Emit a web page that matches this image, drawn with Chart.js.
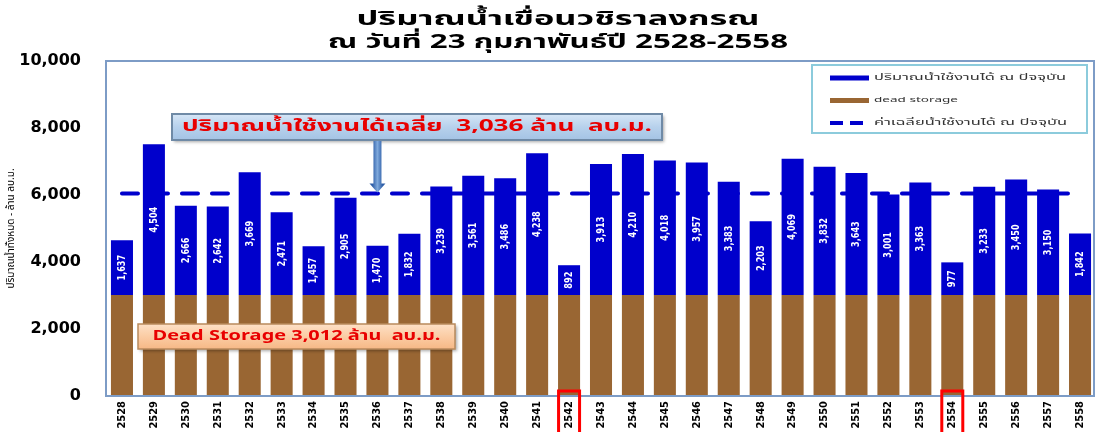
<!DOCTYPE html>
<html>
<head>
<meta charset="utf-8">
<script src="https://cdn.jsdelivr.net/npm/chart.js@4.4.0/dist/chart.umd.min.js"></script>
<style>
    html, body { margin: 0; padding: 0; background: #fff; }
    #wrap { width: 1099px; height: 432px; position: relative; }
</style>
</head>
<body>
<div id="wrap"><canvas id="damChart"></canvas></div>
<script>
// ปีงบ 2528-2558, ข้อมูล ณ วันที่ 23 ก.พ.
const years = ['2528', '2529', '2530', '2531', '2532', '2533', '2534', '2535', '2536', '2537',
    '2538', '2539', '2540', '2541', '2542', '2543', '2544', '2545', '2546', '2547',
    '2548', '2549', '2550', '2551', '2552', '2553', '2554', '2555', '2556', '2557', '2558'];

const usableVolume = [1637, 4504, 2666, 2642, 3669, 2471, 1457, 2905, 1470, 1832,
    3239, 3561, 3486, 4238, 892, 3913, 4210, 4018, 3957, 3383,
    2203, 4069, 3832, 3643, 3001, 3363, 977, 3233, 3450, 3150, 1842];

const deadStorage = [3012, 3012, 3012, 3012, 3012, 3012, 3012, 3012, 3012, 3012,
    3012, 3012, 3012, 3012, 3012, 3012, 3012, 3012, 3012, 3012,
    3012, 3012, 3012, 3012, 3012, 3012, 3012, 3012, 3012, 3012, 3012];

// dead storage + ค่าเฉลี่ยน้ำใช้งานได้ 3,036
const averageLevel = [6048, 6048, 6048, 6048, 6048, 6048, 6048, 6048, 6048, 6048,
    6048, 6048, 6048, 6048, 6048, 6048, 6048, 6048, 6048, 6048,
    6048, 6048, 6048, 6048, 6048, 6048, 6048, 6048, 6048, 6048, 6048];

const yTicks = [0, 2000, 4000, 6000, 8000, 10000];
const highlightYears = ['2542', '2554'];

const titleLines = ['ปริมาณน้ำเขื่อนวชิราลงกรณ', 'ณ วันที่ 23 กุมภาพันธ์ปี 2528-2558'];

const THAI = '"Noto Sans Thai", Tahoma, "DejaVu Sans", sans-serif';
const NARROW = '"Liberation Sans Narrow", "DejaVu Sans Condensed", "Liberation Sans", sans-serif';
const BLUE = '#0000CC';
const BROWN = '#996633';

// the original picture is stretched sideways, so text is drawn wide to a given width
function wideText(ctx, text, x, y, font, width, sy, align) {
    ctx.save();
    ctx.font = font;
    const sx = width / ctx.measureText(text).width;
    ctx.textAlign = align || 'center';
    ctx.textBaseline = 'middle';
    ctx.translate(x, y);
    ctx.scale(sx, sy);
    ctx.fillText(text, 0, 0);
    ctx.restore();
}

const extrasPlugin = {
    id: 'extras',
    afterDatasetsDraw(chart) {
        const ctx = chart.ctx;
        // labels inside the blue bars
        const meta = chart.getDatasetMeta(2);
        ctx.save();
        ctx.fillStyle = '#fff';
        ctx.font = 'bold 11px ' + NARROW;
        ctx.textAlign = 'center';
        ctx.textBaseline = 'middle';
        meta.data.forEach((bar, i) => {
            const p = bar.getProps(['x', 'y', 'base'], true);
            ctx.save();
            ctx.translate(p.x, (p.y + p.base) / 2);
            ctx.rotate(-Math.PI / 2);
            ctx.scale(0.82, 1);
            ctx.fillText(usableVolume[i].toLocaleString('en-US'), 0, 0);
            ctx.restore();
        });
        ctx.restore();
    },
    afterDraw(chart) {
        const ctx = chart.ctx;
        const a = chart.chartArea;
        const xs = chart.scales.x;
        const ys = chart.scales.y;

        // title
        ctx.save();
        ctx.fillStyle = '#000';
        wideText(ctx, titleLines[0], 558, 21, 'bold 19px ' + THAI, 403, 1);
        wideText(ctx, titleLines[1], 558, 44, 'bold 19px ' + THAI, 460, 1);
        ctx.restore();

        // plot frame
        ctx.save();
        ctx.strokeStyle = '#7d9cc6';
        ctx.lineWidth = 2;
        ctx.strokeRect(a.left, a.top, a.right - a.left - 2, a.bottom - a.top);
        ctx.restore();

        // legend
        const lx = a.right - 284, ly = a.top + 4, lw = 275, lh = 68;
        ctx.save();
        ctx.fillStyle = '#fff';
        ctx.fillRect(lx, ly, lw, lh);
        ctx.strokeStyle = '#8ccbdc';
        ctx.lineWidth = 2;
        ctx.strokeRect(lx, ly, lw, lh);
        const items = [
            { text: chart.data.datasets[2].label, color: BLUE, dash: [], w: 5, tw: 192 },
            { text: chart.data.datasets[1].label, color: BROWN, dash: [], w: 5, tw: 84 },
            { text: chart.data.datasets[0].label, color: BLUE, dash: [13, 7], w: 4, tw: 193 }
        ];
        items.forEach((it, k) => {
            const yy = ly + 13 + k * 22.5;
            ctx.beginPath();
            ctx.setLineDash(it.dash);
            ctx.strokeStyle = it.color;
            ctx.lineWidth = it.w;
            ctx.moveTo(lx + 18, yy);
            ctx.lineTo(lx + 57, yy);
            ctx.stroke();
            ctx.setLineDash([]);
            ctx.fillStyle = '#333';
            wideText(ctx, it.text, lx + 62, yy, '10px ' + THAI, it.tw, 0.8, 'left');
        });
        ctx.restore();

        // average annotation box + arrow
        const avgY = ys.getPixelForValue(averageLevel[0]);
        const arrowX = xs.getPixelForValue(8);
        const b1x = a.left + 66, b1y = a.top + 53, b1w = 490, b1h = 26;
        ctx.save();
        ctx.shadowColor = 'rgba(0,0,0,0.35)';
        ctx.shadowBlur = 3;
        ctx.shadowOffsetX = 2;
        ctx.shadowOffsetY = 2;
        let g = ctx.createLinearGradient(0, b1y, 0, b1y + b1h);
        g.addColorStop(0, '#d6e6f6');
        g.addColorStop(0.5, '#b7d1ec');
        g.addColorStop(1, '#a4c3e4');
        ctx.fillStyle = g;
        ctx.fillRect(b1x, b1y, b1w, b1h);
        ctx.shadowColor = 'transparent';
        ctx.strokeStyle = '#6f8aa6';
        ctx.lineWidth = 2;
        ctx.strokeRect(b1x, b1y, b1w, b1h);
        ctx.fillStyle = '#e80000';
        wideText(ctx, 'ปริมาณน้ำใช้งานได้เฉลี่ย  3,036 ล้าน  ลบ.ม.', b1x + b1w / 2, b1y + b1h / 2 + 1,
            'bold 16px ' + THAI, 470, 0.95);

        g = ctx.createLinearGradient(arrowX - 5, 0, arrowX + 5, 0);
        g.addColorStop(0, '#2f5fa8');
        g.addColorStop(0.5, '#7fa9dc');
        g.addColorStop(1, '#2f5fa8');
        ctx.fillStyle = g;
        ctx.fillRect(arrowX - 4, b1y + b1h + 1, 8, avgY - (b1y + b1h) - 10);
        ctx.beginPath();
        ctx.moveTo(arrowX - 8, avgY - 10);
        ctx.lineTo(arrowX + 8, avgY - 10);
        ctx.lineTo(arrowX, avgY - 1);
        ctx.closePath();
        ctx.fill();
        ctx.restore();

        // dead storage annotation box
        const b2x = a.left + 32, b2y = a.top + 263, b2w = 317, b2h = 25;
        ctx.save();
        ctx.shadowColor = 'rgba(0,0,0,0.35)';
        ctx.shadowBlur = 3;
        ctx.shadowOffsetX = 2;
        ctx.shadowOffsetY = 2;
        g = ctx.createLinearGradient(0, b2y, 0, b2y + b2h);
        g.addColorStop(0, '#fde0c6');
        g.addColorStop(0.5, '#fbcca4');
        g.addColorStop(1, '#f6b886');
        ctx.fillStyle = g;
        ctx.fillRect(b2x, b2y, b2w, b2h);
        ctx.shadowColor = 'transparent';
        ctx.strokeStyle = '#b98a5c';
        ctx.lineWidth = 1.5;
        ctx.strokeRect(b2x, b2y, b2w, b2h);
        ctx.fillStyle = '#e80000';
        wideText(ctx, 'Dead Storage 3,012 ล้าน  ลบ.ม.', b2x + b2w / 2, b2y + b2h / 2 + 1,
            'bold 15px ' + THAI, 288, 0.9);
        ctx.restore();

        // red boxes round the highlighted years
        ctx.save();
        ctx.strokeStyle = '#ff0000';
        ctx.lineWidth = 3;
        highlightYears.forEach(yr => {
            const x = xs.getPixelForValue(years.indexOf(yr));
            ctx.strokeRect(x - 10.5, a.bottom - 5, 21, 50);
        });
        ctx.restore();
    }
};

new Chart(document.getElementById('damChart'), {
    type: 'bar',
    data: {
        labels: years,
        datasets: [{
            type: 'line',
            label: 'ค่าเฉลี่ยน้ำใช้งานได้ ณ ปัจจุบัน',
            data: averageLevel,
            borderColor: BLUE,
            borderWidth: 4,
            borderDash: [16, 14],
            borderCapStyle: 'round',
            pointRadius: 0,
            fill: false,
            stack: 'avg',
            order: 0
        }, {
            label: 'dead storage',
            data: deadStorage,
            backgroundColor: BROWN,
            borderWidth: 0,
            stack: 'vol',
            order: 1
        }, {
            label: 'ปริมาณน้ำใช้งานได้ ณ ปัจจุบัน',
            data: usableVolume,
            backgroundColor: BLUE,
            borderWidth: 0,
            stack: 'vol',
            order: 1
        }]
    },
    options: {
        responsive: true,
        maintainAspectRatio: false,
        animation: false,
        devicePixelRatio: 1,
        barPercentage: 0.69,
        categoryPercentage: 1,
        layout: { padding: { left: 0, right: 3, top: 61, bottom: 0 } },
        plugins: {
            legend: { display: false },
            tooltip: { enabled: false },
            title: { display: false }
        },
        scales: {
            x: {
                stacked: true,
                grid: { display: false, drawTicks: false },
                border: { display: false },
                ticks: {
                    autoSkip: false,
                    minRotation: 90,
                    maxRotation: 90,
                    padding: 5,
                    color: '#000',
                    font: { family: NARROW, size: 11, weight: 'bold' }
                },
                afterFit(scale) { scale.height = 36; }
            },
            y: {
                stacked: true,
                min: yTicks[0],
                max: yTicks[yTicks.length - 1],
                afterBuildTicks(scale) { scale.ticks = yTicks.map(v => ({ value: v })); },
                grid: { display: false, drawTicks: false },
                border: { display: false },
                ticks: {
                    padding: 25,
                    color: '#000',
                    font: { family: '"DejaVu Sans", Verdana, sans-serif', size: 16, weight: 'bold' },
                    callback: v => v.toLocaleString('en-US')
                },
                title: {
                    display: true,
                    text: 'ปริมาณน้ำทั้งหมด - ล้าน ลบ.ม.',
                    color: '#000',
                    font: { family: THAI, size: 10 },
                    padding: { top: 6, bottom: 0 }
                },
                afterFit(scale) { scale.width = 106; }
            }
        }
    },
    plugins: [extrasPlugin]
});
</script>
</body>
</html>
